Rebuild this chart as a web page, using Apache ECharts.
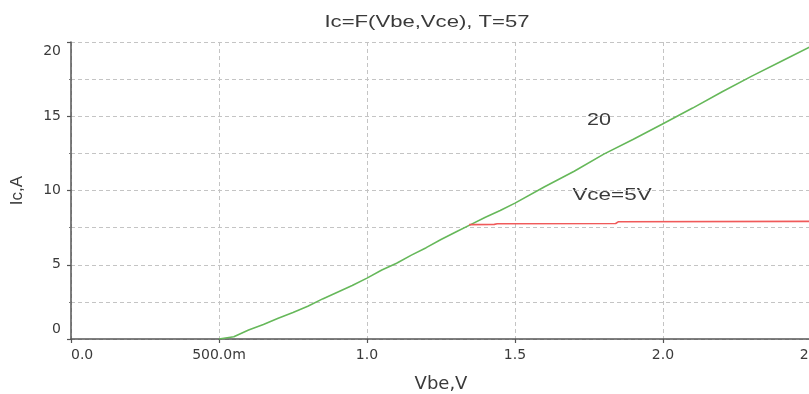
<!DOCTYPE html>
<html>
<head>
<meta charset="utf-8">
<script src="https://cdn.jsdelivr.net/npm/echarts@6/dist/echarts.min.js"></script>
<style>
html,body{margin:0;padding:0;background:#fff;}
#c{width:809px;height:394px;}
</style>
</head>
<body>
<div id="c"></div>
<script>
// Data
var titleText = 'Ic=F(Vbe,Vce), T=57';
var xName = 'Vbe,V';
var yName = 'Ic,A';
var xTickValues = [0, 0.5, 1.0, 1.5, 2.0, 2.5];
var xTickLabels = ['0.0', '500.0m', '1.0', '1.5', '2.0', '2.5'];
var yTickValues = [0, 5, 10, 15, 20];
var yTickLabels = ['0', '5', '10', '15', '20'];

// Green curve (Ic vs Vbe, label "20")
var greenVbe = [0.50, 0.55, 0.60, 0.65, 0.70, 0.75, 0.80, 0.85, 0.90, 0.95, 1.00, 1.05, 1.10, 1.15, 1.20, 1.25, 1.30, 1.35, 1.40, 1.45, 1.50, 1.60, 1.70, 1.80, 1.90, 2.00, 2.10, 2.20, 2.30, 2.40, 2.50];
var greenIc  = [0.00, 0.15, 0.60, 0.98, 1.40, 1.78, 2.20, 2.70, 3.15, 3.60, 4.10, 4.65, 5.10, 5.65, 6.15, 6.70, 7.20, 7.70, 8.20, 8.65, 9.15, 10.25, 11.30, 12.45, 13.45, 14.50, 15.55, 16.65, 17.70, 18.70, 19.70];

// Red curve (Vce=5V)
var redVbe = [1.345, 1.43, 1.44, 1.84, 1.85, 2.50];
var redIc  = [7.70, 7.72, 7.76, 7.78, 7.90, 7.92];

var greenLabel = '20';
var redLabel = 'Vce=5V';

function zip(a, b) { var r = []; for (var i = 0; i < a.length; i++) r.push([a[i], b[i]]); return r; }

var tickFont = 'DejaVu Sans';
var labelColor = '#3a3a3a';
var gridStyle = { color: '#c4c4c4', width: 1, type: [4, 3] };

var chart = echarts.init(document.getElementById('c'), null, { renderer: 'canvas' });
chart.setOption({
  animation: false,
  backgroundColor: '#ffffff',
  grid: { left: 71, top: 42, width: 740, height: 297, containLabel: false, outerBoundsMode: 'none' },
  xAxis: {
    type: 'value', min: 0, max: 2.5, interval: 0.5,
    name: xName, nameLocation: 'middle', nameGap: 36,
    nameTextStyle: { fontFamily: 'DejaVu Sans', fontSize: 18, color: labelColor },
    axisLine: { show: true, onZero: false, lineStyle: { color: '#555', width: 1.5 } },
    axisTick: { show: true, length: 4, lineStyle: { color: '#555', width: 1.2 } },
    axisLabel: {
      margin: 9, fontFamily: tickFont, fontSize: 14, color: labelColor,
      alignMinLabel: 'left',
      formatter: function (v) {
        for (var i = 0; i < xTickValues.length; i++) if (Math.abs(v - xTickValues[i]) < 1e-9) return xTickLabels[i];
        return '';
      }
    },
    splitLine: { show: true, lineStyle: gridStyle }
  },
  yAxis: {
    type: 'value', min: 0, max: 20, interval: 5,
    name: yName, nameLocation: 'middle', nameGap: 45, nameRotate: 90,
    nameTextStyle: { fontFamily: 'Liberation Sans', fontSize: 17, color: labelColor },
    axisLine: { show: true, onZero: false, lineStyle: { color: '#555', width: 1.5 } },
    axisTick: { show: true, length: 4, lineStyle: { color: '#555', width: 1.2 } },
    minorTick: { show: true, splitNumber: 2, length: 2, lineStyle: { color: '#777', width: 1 } },
    minorSplitLine: { show: true, lineStyle: gridStyle },
    axisLabel: {
      margin: 10, fontFamily: tickFont, fontSize: 14, color: labelColor,
      formatter: function (v) {
        var s = '';
        for (var i = 0; i < yTickValues.length; i++) if (Math.abs(v - yTickValues[i]) < 1e-9) s = yTickLabels[i];
        if (v === yTickValues[0]) return '{lo|' + s + '}';
        if (v === yTickValues[yTickValues.length - 1]) return '{hi|' + s + '}';
        return s;
      },
      rich: {
        lo: { fontFamily: tickFont, fontSize: 14, color: labelColor, padding: [0, 0, 20, 0] },
        hi: { fontFamily: tickFont, fontSize: 14, color: labelColor, padding: [18, 0, 0, 0] }
      }
    },
    splitLine: { show: true, lineStyle: gridStyle }
  },
  series: [
    {
      type: 'line', name: greenLabel, data: zip(greenVbe, greenIc),
      showSymbol: false, smooth: false, clip: true,
      lineStyle: { color: '#66b85a', width: 1.6 }
    },
    {
      type: 'line', name: redLabel, data: zip(redVbe, redIc),
      showSymbol: false, smooth: false, clip: true,
      lineStyle: { color: '#f05a5a', width: 1.6 }
    }
  ],
  graphic: [
    { type: 'text', x: 427, y: 22, scaleX: 1.3, silent: true,
      style: { text: titleText, font: '17px "Liberation Sans", Arial, sans-serif', fill: '#3a3a3a', textAlign: 'center', textVerticalAlign: 'middle', align: 'center', verticalAlign: 'middle' } },
    { type: 'text', x: 599, y: 120, scaleX: 1.27, silent: true,
      style: { text: greenLabel, font: '17px "Liberation Sans", Arial, sans-serif', fill: '#3a3a3a', textAlign: 'center', textVerticalAlign: 'middle', align: 'center', verticalAlign: 'middle' } },
    { type: 'text', x: 612, y: 195, scaleX: 1.32, silent: true,
      style: { text: redLabel, font: '17px "Liberation Sans", Arial, sans-serif', fill: '#3a3a3a', textAlign: 'center', textVerticalAlign: 'middle', align: 'center', verticalAlign: 'middle' } }
  ]
});
</script>
</body>
</html>
